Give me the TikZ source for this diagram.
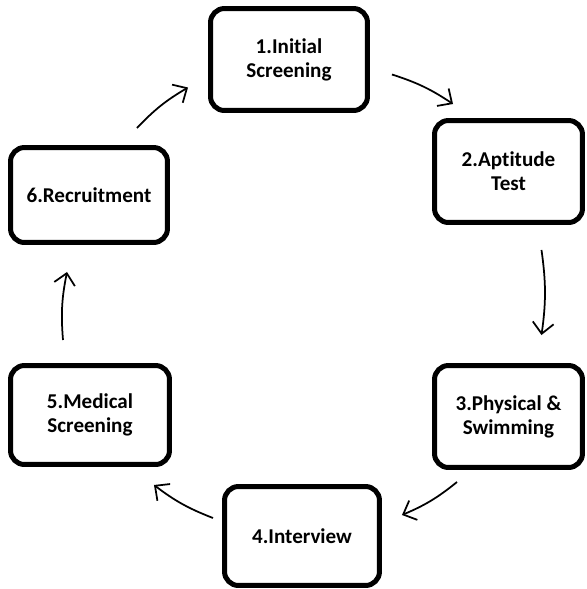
\documentclass[tikz,border=0pt]{standalone}
\usepackage{fontspec}
\setmainfont{Carlito}[Ligatures=NoCommon]
\usetikzlibrary{shapes,arrows.meta}

\begin{document}
\begin{tikzpicture}[x=0.02cm, y=-0.02cm, auto]
	\tikzstyle{block} = [rectangle, draw, line width=0.1cm, rounded corners=0.28cm,
	align=center, font=\fontsize{12}{13.6}\selectfont\bfseries, inner sep=0pt,
	minimum width=3.14cm, minimum height=2.04cm]
	\tikzstyle{line} = [draw, -{Straight Barb[length=0.22cm, width=0.42cm]}, line width=0.035cm, bend left=8]
	\useasboundingbox (0,0) rectangle (587,589);
	% Place nodes
	\node [block] (screening) at (289,59.5) {1.Initial\\Screening};
	\node [block, minimum width=2.96cm] (aptitude) at (508.5,171.5) {2.Aptitude\\Test};
	\node [block, minimum width=2.96cm] (physical) at (508.5,416.5) {3.Physical \&\\Swimming};
	\node [block, minimum width=3.1cm, minimum height=1.98cm] (interview) at (302,536) {4.Interview};
	\node [block, minimum width=3.18cm, minimum height=1.98cm] (medical) at (90,415) {5.Medical\\Screening};
	\node [block, minimum height=1.9cm] (recruitment) at (89,195) {6.Recruitment};
	% Draw edges
	\path [line] ([shift={(22,15)}]screening.east) to ([shift={(21,-14)}]aptitude.north west);
	\path [line] ([shift={(33,25)}]aptitude.south) to ([shift={(33,-28)}]physical.north);
	\path [line] ([shift={(25,12)}]physical.south west) to ([shift={(20,-21)}]interview.east);
	\path [line] ([shift={(-9,-18)}]interview.west) to ([shift={(-18,18)}]medical.south east);
	\path [line] ([shift={(-27,-23)}]medical.north) to ([shift={(-22,27)}]recruitment.south);
	\path [line] ([shift={(-33,-17)}]recruitment.north east) to ([shift={(-20,28)}]screening.west);
\end{tikzpicture}
\end{document}
